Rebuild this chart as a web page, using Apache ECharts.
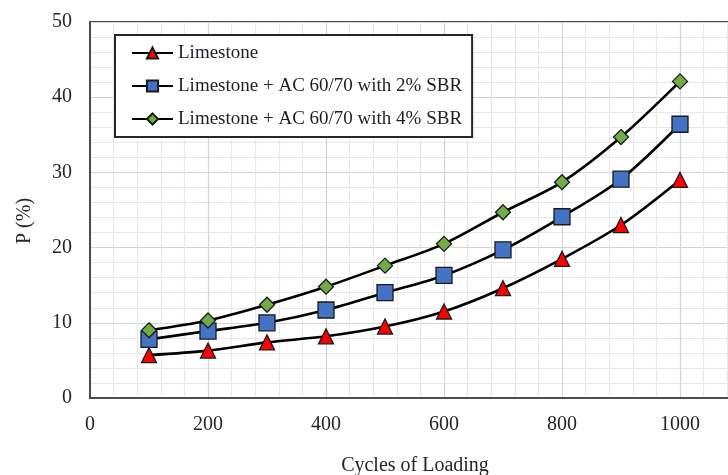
<!DOCTYPE html>
<html>
<head>
<meta charset="utf-8">
<script src="https://cdn.jsdelivr.net/npm/echarts@6/dist/echarts.min.js"></script>
<style>
  html, body { margin: 0; padding: 0; background: #fff; }
  #chart { width: 728px; height: 475px; }
</style>
</head>
<body>
<div id="chart"></div>
<script>
// Permanent deformation P (%) against number of loading cycles
const cycles = [100, 200, 300, 400, 500, 600, 700, 800, 900, 1000];
const limestone = [5.7, 6.3, 7.4, 8.2, 9.5, 11.5, 14.6, 18.5, 23.0, 29.0];
const sbr2 = [7.8, 8.9, 10.0, 11.7, 14.0, 16.3, 19.7, 24.1, 29.1, 36.4];
const sbr4 = [9.0, 10.3, 12.4, 14.8, 17.6, 20.5, 24.7, 28.7, 34.7, 42.1];
const seriesNames = [
  'Limestone',
  'Limestone + AC 60/70 with 2% SBR',
  'Limestone + AC 60/70 with 4% SBR'
];
const xTitle = 'Cycles of Loading';
const yTitle = 'P (%)';

const FONT = '"Liberation Serif", "Times New Roman", serif';

function pairs(values) {
  return cycles.map((c, i) => [c, values[i]]);
}

function makeSeries(name, values, symbol, size, color) {
  return {
    name: name,
    type: 'line',
    data: pairs(values),
    smooth: 0.3,
    symbol: symbol,
    symbolSize: size,
    showAllSymbol: true,
    lineStyle: { color: '#000', width: 2.6 },
    itemStyle: { color: color, borderColor: '#1a1a1a', borderWidth: 1.3 },
    emphasis: { disabled: true },
    z: 3
  };
}

const chart = echarts.init(document.getElementById('chart'), null, { renderer: 'canvas' });

chart.setOption({
  animation: false,
  backgroundColor: '#fff',
  grid: {
    left: 90, top: 22, width: 708, height: 376,
    outerBoundsMode: 'none',
    containLabel: false,
    show: true, borderColor: '#4d4d4d', borderWidth: 2, backgroundColor: 'transparent'
  },
  legend: {
    orient: 'vertical',
    left: 115, top: 35,
    padding: [8, 10, 8, 16],
    itemWidth: 41, itemHeight: 14, itemGap: 13,
    backgroundColor: '#fff',
    borderColor: '#262626', borderWidth: 2,
    textStyle: { fontFamily: FONT, fontSize: 19, color: '#1e1e2a', lineHeight: 20 },
    data: seriesNames
  },
  xAxis: {
    type: 'value',
    min: 0, max: 1200, interval: 200,
    axisLine: { show: true, lineStyle: { color: '#4d4d4d', width: 2 } },
    axisTick: { show: false },
    axisLabel: {
      fontFamily: FONT, fontSize: 20, color: '#262626', margin: 17,
      showMaxLabel: false,
      formatter: v => String(v)
    },
    splitLine: { show: true, lineStyle: { color: '#d4d4d4', width: 1.2 } },
    minorTick: { show: false, splitNumber: 5 },
    minorSplitLine: { show: true, lineStyle: { color: '#e8e8e8', width: 1.2 } }
  },
  yAxis: {
    type: 'value',
    min: 0, max: 50, interval: 10,
    axisLine: { show: true, lineStyle: { color: '#4d4d4d', width: 2 } },
    axisTick: { show: false },
    axisLabel: { fontFamily: FONT, fontSize: 20, color: '#262626', margin: 18 },
    splitLine: { show: true, lineStyle: { color: '#d4d4d4', width: 1.2 } },
    minorTick: { show: false, splitNumber: 5 },
    minorSplitLine: { show: true, lineStyle: { color: '#e8e8e8', width: 1.2 } }
  },
  graphic: [
    {
      type: 'text', x: 415, y: 466,
      style: { text: xTitle, font: '20px ' + FONT, fill: '#262626', align: 'center', verticalAlign: 'middle' }
    },
    {
      type: 'text', x: 25, y: 221, rotation: Math.PI / 2,
      style: { text: yTitle, font: '20px ' + FONT, fill: '#262626', align: 'center', verticalAlign: 'middle' }
    }
  ],
  series: [
    makeSeries(seriesNames[0], limestone, 'triangle', 15, '#ff0000'),
    makeSeries(seriesNames[1], sbr2, 'rect', 16, '#4472c4'),
    makeSeries(seriesNames[2], sbr4, 'diamond', 15, '#70ad47')
  ]
});
</script>
</body>
</html>
